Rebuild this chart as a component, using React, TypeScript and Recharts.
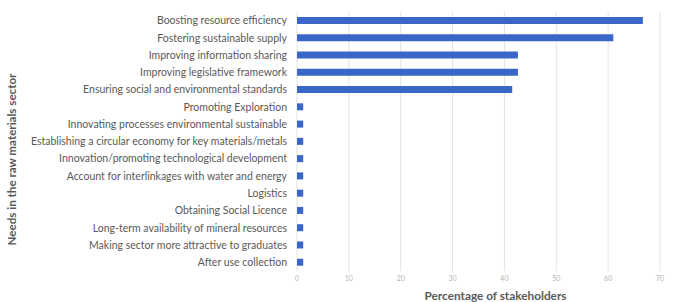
import React from 'react';
import { BarChart, Bar, XAxis, YAxis, CartesianGrid, Label } from 'recharts';

const needs = [
  'Boosting resource efficiency',
  'Fostering sustainable supply',
  'Improving information sharing',
  'Improving legislative framework',
  'Ensuring social and environmental standards',
  'Promoting Exploration',
  'Innovating processes environmental sustainable',
  'Establishing a circular economy for key materials/metals',
  'Innovation/promoting technological development',
  'Account for interlinkages with water and energy',
  'Logistics',
  'Obtaining Social Licence',
  'Long-term availability of mineral resources',
  'Making sector more attractive to graduates',
  'After use collection',
];

const percentages = [66.7, 61, 42.6, 42.6, 41.5, 1.2, 1.2, 1.2, 1.2, 1.2, 1.2, 1.2, 1.2, 1.2, 1.2];

const xTicks = [0, 10, 20, 30, 40, 50, 60, 70];

const chartData = needs.map((name, i) => ({ name, value: percentages[i] }));

const FONT = 'Lato, "Open Sans", sans-serif';

// single-line category tick, no wrapping
const NeedTick = (props: any) => {
  const { x, y, payload } = props;
  return (
    <text
      x={x}
      y={y}
      dy="0.35em"
      textAnchor="end"
      fill="#595959"
      fontSize={10.5}
      fontFamily={FONT}
    >
      {payload.value}
    </text>
  );
};

const App = () => {
  return (
    <div style={{ position: 'fixed', left: 0, top: 0, background: '#fff' }}>
      <BarChart
        width={678}
        height={302}
        data={chartData}
        layout="vertical"
        barSize={7}
        margin={{ top: 12, right: 18, left: 0, bottom: 13 }}
      >
        <CartesianGrid horizontal={false} stroke="#e2e2e2" />
        <XAxis
          type="number"
          domain={[0, 70]}
          ticks={xTicks}
          height={18}
          axisLine={false}
          tickLine={false}
          tickSize={0}
          tickMargin={5}
          interval={0}
          tick={{ fill: '#b5b5b5', fontSize: 7, fontFamily: FONT }}
        >
          <Label
            value="Percentage of stakeholders"
            position="bottom"
            offset={3}
            dx={17}
            style={{ fill: '#595959', fontSize: 11.8, fontWeight: 700, fontFamily: FONT }}
          />
        </XAxis>
        <YAxis
          type="category"
          dataKey="name"
          width={297}
          axisLine={false}
          tickLine={false}
          tickSize={0}
          tickMargin={10}
          interval={0}
          tick={<NeedTick />}
        >
          <Label
            value="Needs in the raw materials sector"
            angle={-90}
            position="insideLeft"
            offset={12}
            dy={18}
            style={{ textAnchor: 'middle', fill: '#595959', fontSize: 11.6, fontWeight: 700, fontFamily: FONT }}
          />
        </YAxis>
        <Bar dataKey="value" fill="#3a66c7" isAnimationActive={false} />
      </BarChart>
    </div>
  );
};

export default App;
